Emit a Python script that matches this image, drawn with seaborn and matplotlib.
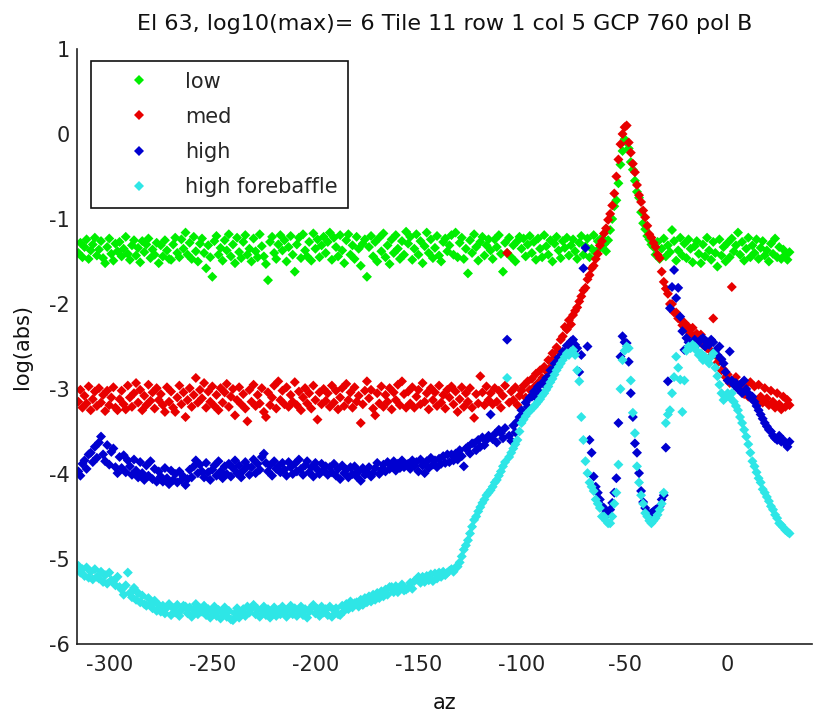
# recriando o grafico de varredura em azimute (4 series de pontos em losango)
import numpy as np
import pandas as pd
import matplotlib
matplotlib.use('Agg')
import matplotlib.pyplot as plt
import seaborn as sns

# eixo x: azimute de -315 a 30 (passo 1)
az = list(range(-315, 31))

# valores, 20 por linha (comentario = az inicial da linha)
low = [
    -1.40, -1.28, -1.45, -1.33, -1.24, -1.47, -1.37, -1.30, -1.22, -1.43, -1.36, -1.26, -1.46, -1.52, -1.33, -1.23, -1.41, -1.49, -1.29, -1.38,  # -315
    -1.27, -1.44, -1.35, -1.21, -1.41, -1.48, -1.31, -1.25, -1.43, -1.34, -1.51, -1.26, -1.39, -1.30, -1.23, -1.46, -1.36, -1.42, -1.28, -1.52,  # -295
    -1.31, -1.44, -1.25, -1.37, -1.47, -1.48, -1.30, -1.22, -1.40, -1.45, -1.24, -1.35, -1.16, -1.42, -1.28, -1.47, -1.21, -1.38, -1.50, -1.29,  # -275
    -1.23, -1.40, -1.58, -1.31, -1.45, -1.68, -1.26, -1.20, -1.42, -1.34, -1.49, -1.25, -1.37, -1.18, -1.44, -1.30, -1.52, -1.22, -1.39, -1.46,  # -255
    -1.27, -1.19, -1.42, -1.35, -1.50, -1.23, -1.38, -1.45, -1.18, -1.32, -1.44, -1.53, -1.72, -1.27, -1.21, -1.40, -1.47, -1.30, -1.19, -1.37,  # -235
    -1.25, -1.50, -1.33, -1.20, -1.42, -1.62, -1.30, -1.22, -1.46, -1.18, -1.37, -1.44, -1.27, -1.49, -1.17, -1.35, -1.24, -1.45, -1.31, -1.21,  # -215
    -1.40, -1.27, -1.16, -1.48, -1.22, -1.33, -1.44, -1.19, -1.37, -1.52, -1.25, -1.18, -1.42, -1.31, -1.47, -1.21, -1.35, -1.55, -1.29, -1.24,  # -195
    -1.68, -1.33, -1.20, -1.44, -1.27, -1.50, -1.22, -1.38, -1.17, -1.45, -1.31, -1.53, -1.24, -1.40, -1.19, -1.35, -1.47, -1.26, -1.42, -1.15,  # -175
    -1.29, -1.21, -1.48, -1.35, -1.18, -1.42, -1.26, -1.52, -1.32, -1.16, -1.40, -1.24, -1.46, -1.34, -1.20, -1.43, -1.50, -1.27, -1.23, -1.38,  # -155
    -1.31, -1.19, -1.42, -1.16, -1.45, -1.28, -1.22, -1.47, -1.35, -1.64, -1.25, -1.40, -1.18, -1.33, -1.49, -1.27, -1.21, -1.43, -1.31, -1.24,  # -135
    -1.37, -1.47, -1.24, -1.33, -1.19, -1.41, -1.62, -1.28, -1.40, -1.22, -1.45, -1.31, -1.50, -1.26, -1.21, -1.35, -1.23, -1.44, -1.30, -1.20,  # -115
    -1.40, -1.27, -1.48, -1.23, -1.35, -1.45, -1.19, -1.32, -1.42, -1.25, -1.50, -1.29, -1.21, -1.37, -1.46, -1.26, -1.34, -1.22, -1.43, -1.31,  # -95
    -1.24, -1.38, -1.47, -1.28, -1.20, -1.42, -1.32, -1.23, -1.45, -1.35, -1.19, -1.40, -1.26, -1.34, -1.22, -1.30, -1.38, -1.25, -1.13, -1.00,  # -75
    -0.85, -0.78, -0.58, -0.36, -0.20, -0.06, -0.10, -0.17, -0.33, -0.42, -0.55, -0.68, -0.75, -0.92, -1.05, -1.12, -1.20, -1.24, -1.30, -1.33,  # -55
    -1.42, -1.27, -1.47, -1.35, -1.23, -1.44, -1.31, -1.39, -1.13, -1.26, -1.49, -1.37, -1.22, -1.43, -1.29, -1.46, -1.24, -1.35, -1.51, -1.32,  # -35
    -1.26, -1.41, -1.52, -1.30, -1.44, -1.22, -1.37, -1.48, -1.27, -1.40, -1.56, -1.24, -1.43, -1.33, -1.50, -1.28, -1.45, -1.23, -1.38, -1.31,  # -15
    -1.16, -1.42, -1.27, -1.49, -1.35, -1.22, -1.45, -1.31, -1.40, -1.24, -1.47, -1.34, -1.26, -1.43, -1.37, -1.50, -1.29, -1.41, -1.23, -1.45,  # 5
    -1.33, -1.47, -1.36, -1.42, -1.48, -1.39,  # 25
]

med = [
    -3.15, -3.01, -3.22, -3.08, -3.17, -2.97, -3.25, -3.12, -3.03, -3.20, -2.99, -3.16, -3.07, -3.26, -3.02, -3.19, -3.10, -2.98, -3.22, -3.25,  # -315
    -3.12, -3.02, -3.18, -3.24, -2.96, -3.10, -3.21, -3.05, -2.93, -3.16, -3.01, -3.25, -3.08, -3.19, -2.95, -3.14, -3.04, -3.23, -2.99, -3.13,  # -295
    -3.06, -3.19, -3.27, -2.98, -3.15, -3.03, -3.22, -3.27, -3.10, -2.96, -3.18, -3.04, -3.33, -3.13, -2.99, -3.21, -3.07, -2.87, -3.16, -3.01,  # -275
    -3.11, -2.93, -3.22, -3.03, -3.15, -2.97, -3.20, -3.07, -3.25, -2.99, -3.16, -3.04, -2.94, -3.21, -3.09, -3.00, -3.31, -3.13, -2.98, -3.18,  # -255
    -3.06, -3.23, -3.38, -3.01, -3.15, -2.95, -3.20, -3.07, -3.17, -2.99, -3.27, -3.33, -3.04, -3.19, -3.10, -2.96, -3.23, -2.91, -3.13, -3.02,  # -235
    -3.18, -2.98, -3.21, -3.07, -3.15, -2.92, -3.19, -3.03, -3.25, -3.10, -2.99, -3.17, -3.05, -3.23, -2.96, -3.13, -3.36, -3.04, -3.18, -3.00,  # -215
    -3.14, -3.05, -3.21, -2.96, -3.16, -3.02, -3.24, -3.10, -2.99, -3.20, -2.94, -3.13, -3.04, -3.22, -2.98, -3.15, -3.08, -3.40, -3.18, -3.02,  # -195
    -2.91, -3.11, -3.01, -3.23, -3.31, -3.05, -3.17, -2.97, -3.21, -3.07, -3.15, -2.99, -3.24, -3.04, -3.13, -2.95, -3.19, -2.91, -3.06, -3.22,  # -175
    -3.03, -3.17, -2.98, -3.22, -3.09, -3.01, -3.18, -2.93, -3.15, -3.05, -3.24, -2.99, -3.13, -3.04, -3.20, -2.96, -3.16, -3.07, -3.23, -3.01,  # -155
    -3.10, -2.97, -3.18, -3.03, -3.27, -3.12, -2.98, -3.21, -3.05, -3.15, -2.99, -3.22, -3.34, -3.06, -3.17, -2.85, -3.04, -3.19, -2.97, -3.13,  # -135
    -3.05, -3.18, -2.99, -3.15, -3.02, -3.22, -3.08, -2.96, -1.40, -3.16, -3.03, -3.13, -2.98, -3.19, -3.08, -3.02, -2.96, -3.10, -2.91, -3.01,  # -115
    -2.88, -2.98, -2.82, -2.93, -2.78, -2.87, -2.74, -2.79, -2.66, -2.75, -2.58, -2.63, -2.51, -2.55, -2.42, -2.38, -2.27, -2.30, -2.19, -2.24,  # -95
    -2.13, -2.08, -2.04, -1.97, -1.91, -1.84, -1.81, -1.71, -1.66, -1.58, -1.55, -1.47, -1.41, -1.31, -1.26, -1.17, -1.11, -1.01, -0.94, -0.84,  # -75
    -0.70, -0.50, -0.30, -0.12, 0.00, 0.08, 0.10, -0.10, -0.22, -0.35, -0.45, -0.60, -0.72, -0.80, -0.90, -0.98, -1.08, -1.18, -1.22, -1.28,  # -55
    -1.33, -1.42, -1.46, -1.62, -1.74, -1.82, -1.88, -2.00, -2.00, -2.10, -2.10, -2.17, -2.18, -2.25, -2.22, -2.30, -2.27, -2.35, -2.28, -2.38,  # -35
    -2.35, -2.43, -2.36, -2.48, -2.47, -2.52, -2.53, -2.61, -2.17, -2.60, -2.69, -2.67, -2.78, -2.77, -2.86, -2.83, -2.93, -1.80, -2.90, -2.86,  # -15
    -2.98, -2.96, -2.93, -3.06, -2.94, -3.09, -2.92, -3.12, -2.97, -3.14, -2.95, -3.09, -3.16, -2.99, -3.11, -3.19, -3.02, -3.15, -3.22, -3.05,  # 5
    -3.18, -3.24, -3.09, -3.21, -3.13, -3.19,  # 25
]

high = [
    -3.97, -4.02, -3.88, -3.84, -3.94, -3.77, -3.75, -3.86, -3.68, -3.81, -3.63, -3.56, -3.77, -3.85, -3.66, -3.89, -3.74, -3.70, -3.92, -3.99,  # -315
    -3.80, -3.93, -3.78, -3.98, -3.84, -3.91, -4.01, -3.83, -3.96, -4.04, -3.86, -3.99, -4.07, -3.90, -4.02, -3.85, -4.06, -3.94, -4.09, -3.97,  # -295
    -4.03, -4.09, -3.93, -4.05, -4.12, -3.96, -4.07, -4.00, -4.10, -3.97, -4.07, -4.03, -4.13, -4.06, -3.95, -4.04, -3.91, -3.84, -3.99, -3.89,  # -275
    -3.97, -4.04, -3.87, -3.98, -4.07, -3.95, -3.90, -4.02, -3.85, -3.97, -4.05, -3.91, -4.00, -3.88, -4.03, -3.93, -3.84, -3.99, -3.90, -4.04,  # -255
    -3.96, -3.86, -3.91, -4.01, -3.92, -3.83, -3.99, -3.88, -3.95, -3.80, -3.76, -3.87, -3.97, -3.90, -4.02, -3.85, -3.94, -3.91, -3.98, -3.87,  # -235
    -3.95, -4.02, -3.86, -3.92, -4.00, -3.88, -3.97, -3.83, -3.94, -4.01, -3.90, -3.85, -3.98, -3.92, -4.03, -3.87, -3.95, -4.00, -3.88, -3.96,  # -215
    -3.91, -4.01, -3.92, -3.98, -3.88, -4.02, -3.94, -4.06, -3.90, -3.99, -3.95, -4.04, -3.92, -4.00, -3.91, -4.03, -3.97, -4.08, -3.93, -4.01,  # -195
    -3.98, -3.92, -4.03, -3.99, -3.93, -3.87, -4.00, -3.95, -3.89, -3.97, -3.86, -3.94, -3.91, -3.85, -3.96, -3.88, -3.93, -3.84, -3.92, -3.89,  # -175
    -3.88, -3.94, -3.84, -3.91, -3.86, -3.97, -3.83, -3.90, -3.99, -3.85, -3.93, -3.81, -3.89, -3.84, -3.92, -3.82, -3.88, -3.79, -3.87, -3.77,  # -155
    -3.86, -3.77, -3.84, -3.76, -3.83, -3.72, -3.79, -3.91, -3.70, -3.68, -3.76, -3.64, -3.64, -3.72, -3.60, -3.68, -3.57, -3.66, -3.60, -3.55,  # -135
    -3.30, -3.59, -3.53, -3.63, -3.48, -3.52, -3.58, -3.46, -2.42, -3.55, -3.61, -3.43, -3.51, -3.38, -3.33, -3.25, -3.29, -3.16, -3.21, -3.10,  # -115
    -3.09, -3.03, -3.10, -2.97, -3.04, -2.93, -2.94, -2.87, -2.86, -2.78, -2.78, -2.70, -2.70, -2.63, -2.64, -2.56, -2.57, -2.49, -2.49, -2.44,  # -95
    -2.42, -2.48, -2.52, -2.80, -2.60, -1.58, -1.34, -2.50, -3.60, -3.75, -4.03, -4.15, -4.22, -4.30, -4.38, -4.40, -4.45, -4.46, -4.42, -4.34,  # -75
    -4.22, -4.05, -3.40, -2.62, -2.38, -2.45, -2.46, -2.68, -3.05, -3.33, -3.64, -3.75, -3.99, -4.20, -4.33, -4.40, -4.45, -4.48, -4.46, -4.44,  # -55
    -4.42, -4.42, -4.38, -4.30, -4.25, -3.69, -2.91, -2.05, -1.80, -1.60, -1.93, -1.81, -2.15, -2.32, -2.54, -2.40, -2.45, -2.50, -2.46, -2.42,  # -35
    -2.48, -2.45, -2.42, -2.40, -2.50, -2.45, -2.48, -2.42, -2.45, -2.55, -2.60, -2.50, -2.65, -2.70, -2.80, -2.90, -2.56, -2.90, -2.95, -2.93,  # -15
    -3.00, -2.95, -3.05, -2.90, -3.00, -3.05, -3.10, -3.09, -3.15, -3.20, -3.25, -3.30, -3.35, -3.40, -3.44, -3.48, -3.50, -3.55, -3.58, -3.60,  # 5
    -3.55, -3.62, -3.60, -3.64, -3.68, -3.62,  # 25
]

high_forebaffle = [
    -5.08, -5.16, -5.12, -5.20, -5.10, -5.22, -5.15, -5.24, -5.12, -5.21, -5.23, -5.15, -5.27, -5.19, -5.29, -5.16, -5.25, -5.26, -5.31, -5.21,  # -315
    -5.33, -5.36, -5.42, -5.31, -5.16, -5.40, -5.45, -5.34, -5.48, -5.40, -5.51, -5.43, -5.53, -5.55, -5.46, -5.54, -5.58, -5.49, -5.61, -5.54,  # -295
    -5.62, -5.55, -5.64, -5.57, -5.53, -5.66, -5.58, -5.63, -5.54, -5.67, -5.60, -5.55, -5.56, -5.64, -5.57, -5.68, -5.60, -5.53, -5.65, -5.58,  # -275
    -5.62, -5.55, -5.66, -5.59, -5.69, -5.62, -5.56, -5.67, -5.60, -5.70, -5.63, -5.57, -5.68, -5.61, -5.71, -5.72, -5.64, -5.58, -5.69, -5.62,  # -255
    -5.59, -5.67, -5.56, -5.63, -5.58, -5.54, -5.65, -5.59, -5.68, -5.60, -5.56, -5.66, -5.59, -5.69, -5.62, -5.57, -5.67, -5.60, -5.65, -5.56,  # -235
    -5.63, -5.68, -5.59, -5.55, -5.65, -5.58, -5.67, -5.60, -5.56, -5.66, -5.59, -5.69, -5.62, -5.57, -5.54, -5.64, -5.59, -5.67, -5.56, -5.63,  # -215
    -5.59, -5.66, -5.56, -5.68, -5.60, -5.58, -5.65, -5.66, -5.55, -5.61, -5.53, -5.59, -5.50, -5.57, -5.52, -5.51, -5.56, -5.48, -5.54, -5.46,  # -195
    -5.51, -5.44, -5.50, -5.42, -5.48, -5.40, -5.46, -5.38, -5.44, -5.36, -5.42, -5.33, -5.33, -5.39, -5.32, -5.39, -5.35, -5.30, -5.37, -5.36,  # -175
    -5.34, -5.28, -5.35, -5.26, -5.24, -5.21, -5.28, -5.21, -5.27, -5.20, -5.25, -5.18, -5.26, -5.17, -5.23, -5.16, -5.21, -5.15, -5.19, -5.16,  # -155
    -5.14, -5.12, -5.15, -5.10, -5.09, -5.04, -4.97, -4.89, -4.84, -4.78, -4.70, -4.62, -4.54, -4.50, -4.44, -4.39, -4.34, -4.30, -4.25, -4.22,  # -135
    -4.19, -4.15, -4.10, -4.07, -4.02, -3.97, -3.91, -3.86, -2.87, -3.80, -3.75, -3.70, -3.65, -3.60, -3.50, -3.40, -3.36, -3.32, -3.28, -3.26,  # -115
    -3.23, -3.21, -3.18, -3.15, -3.12, -3.08, -3.05, -3.01, -2.97, -2.92, -2.88, -2.83, -2.78, -2.74, -2.70, -2.66, -2.62, -2.58, -2.60, -2.56,  # -95
    -2.54, -2.60, -2.78, -2.91, -3.33, -3.60, -3.85, -3.99, -4.10, -4.15, -4.20, -4.30, -4.35, -4.40, -4.50, -4.50, -4.55, -4.58, -4.58, -4.50,  # -75
    -4.35, -4.22, -3.89, -3.00, -2.66, -2.55, -2.50, -2.52, -2.90, -3.28, -3.52, -3.91, -4.10, -4.25, -4.35, -4.46, -4.50, -4.55, -4.58, -4.55,  # -55
    -4.52, -4.48, -4.42, -4.35, -4.22, -3.40, -3.30, -3.25, -3.05, -2.86, -2.62, -2.75, -2.89, -3.27, -2.90, -2.55, -2.50, -2.52, -2.48, -2.50,  # -35
    -2.55, -2.60, -2.58, -2.66, -2.62, -2.65, -2.70, -2.62, -2.58, -2.75, -2.85, -2.95, -3.05, -3.13, -3.10, -3.05, -3.10, -3.05, -3.15, -3.20,  # -15
    -3.25, -3.33, -3.40, -3.48, -3.56, -3.65, -3.75, -3.85, -3.91, -3.98, -4.05, -4.10, -4.18, -4.22, -4.27, -4.32, -4.38, -4.42, -4.48, -4.52,  # 5
    -4.58, -4.60, -4.63, -4.66, -4.68, -4.70,  # 25
]

nomes = ['low', 'med', 'high', 'high forebaffle']
cores = {'low': '#00ee00', 'med': '#e80000', 'high': '#0000d0', 'high forebaffle': '#2ee6e6'}

# montando a tabela longa para o seaborn
series = [low, med, high, high_forebaffle]
for s in series:
    assert len(s) == len(az)
df = pd.DataFrame({
    'az': az * 4,
    'valor': low + med + high + high_forebaffle,
    'serie': [n for n in nomes for _ in az],
})

sns.set_style('white')
plt.rcParams['font.family'] = ['DejaVu Sans']
plt.rcParams['axes.unicode_minus'] = False

fig = plt.figure(figsize=(8.15, 7.13), dpi=100)
ax = fig.add_axes([0.0941, 0.0968, 0.9022, 0.8345])

sns.scatterplot(data=df, x='az', y='valor', hue='serie', hue_order=nomes, palette=cores,
                marker='D', s=26, linewidth=0, ax=ax)

ax.set_xlim(-315.8, 40.9)
ax.set_ylim(-6, 1)
ax.set_xticks([-300, -250, -200, -150, -100, -50, 0])
ax.set_yticks([1, 0, -1, -2, -3, -4, -5, -6])

# estilo matlab: sem caixa, ticks para dentro
for lado in ['top', 'right']:
    ax.spines[lado].set_visible(False)
for lado in ['left', 'bottom']:
    ax.spines[lado].set_color('#222222')
    ax.spines[lado].set_linewidth(1.2)
ax.tick_params(direction='in', length=6, width=1.1, colors='#222222', labelsize=15)
ax.tick_params(axis='x', pad=8)
ax.tick_params(axis='y', pad=5)

ax.set_title('El 63, log10(max)= 6 Tile 11 row 1 col 5 GCP 760 pol B', fontsize=16, pad=14, color='#111111')
ax.set_xlabel('az', fontsize=15, va='center', color='#111111')
ax.xaxis.set_label_coords(0.5, -0.099)
ax.set_ylabel('log(abs)', fontsize=15, va='center', color='#111111')
ax.yaxis.set_label_coords(-0.0744, 0.5)

# legenda com caixa preta no canto superior esquerdo
handles, labels = ax.get_legend_handles_labels()
leg = ax.legend(handles, labels, loc='upper left', bbox_to_anchor=(0.019, 0.980), borderaxespad=0,
                fontsize=15, fancybox=False, framealpha=1, edgecolor='#111111',
                borderpad=0.51, labelspacing=0.73, handlelength=3.59, handletextpad=0.43, markerscale=1.0)
leg.get_frame().set_linewidth(1.2)

fig.savefig('out.png', dpi=100)
